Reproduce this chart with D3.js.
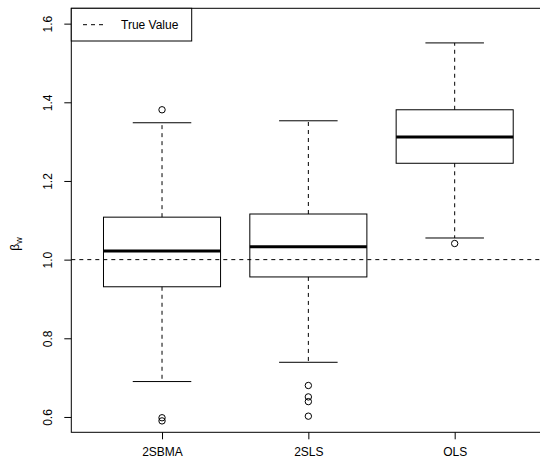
<!DOCTYPE html>
<html>
<head>
<meta charset="utf-8">
<script src="https://cdn.jsdelivr.net/npm/d3@7"></script>
<style>
  html, body { margin: 0; padding: 0; background: #fff; }
  svg { display: block; }
  text { font-family: "Liberation Sans", Arial, Helvetica, sans-serif; fill: #000; }
</style>
</head>
<body>
<svg id="chart" width="540" height="464"></svg>
<script>
// ---- data ----
const categories = ["2SBMA", "2SLS", "OLS"];
const whiskerLow  = [0.690, 0.739, 1.055];
const q1          = [0.931, 0.956, 1.245];
const medians     = [1.022, 1.033, 1.312];
const q3          = [1.108, 1.116, 1.381];
const whiskerHigh = [1.348, 1.353, 1.551];
const outliers    = [[1.381, 0.598, 0.590], [0.680, 0.651, 0.639, 0.602], [1.041]];
const yTicks      = [0.6, 0.8, 1.0, 1.2, 1.4, 1.6];
const trueValue   = 1.0;
const legendLabel = "True Value";

// ---- layout ----
const svg = d3.select("#chart");
const plot = { left: 71.3, top: 8.3, right: 545.4, bottom: 432.3 };

const x = d3.scaleLinear().domain([0.38, 3.62]).range([plot.left, plot.right]);
const y = d3.scaleLinear().domain([0.561, 1.639]).range([plot.bottom, plot.top]);
const unit = x(2) - x(1);
const boxW = 0.8 * unit;
const capW = 0.4 * unit;

const boxes = categories.map((c, i) => ({
  c, i: i + 1, lo: whiskerLow[i], q1: q1[i], med: medians[i], q3: q3[i], hi: whiskerHigh[i], out: outliers[i]
}));

const g = svg.append("g");

// true value line
g.append("line")
  .attr("x1", plot.left).attr("x2", plot.right)
  .attr("y1", y(trueValue)).attr("y2", y(trueValue))
  .attr("stroke", "#000").attr("stroke-width", 1).attr("stroke-dasharray", "4,4");

const bg = g.selectAll("g.box").data(boxes).join("g").attr("class", "box");

// whiskers (dashed)
bg.append("line")
  .attr("x1", d => x(d.i)).attr("x2", d => x(d.i))
  .attr("y1", d => y(d.q3)).attr("y2", d => y(d.hi))
  .attr("stroke", "#000").attr("stroke-dasharray", "4,4");
bg.append("line")
  .attr("x1", d => x(d.i)).attr("x2", d => x(d.i))
  .attr("y1", d => y(d.q1)).attr("y2", d => y(d.lo))
  .attr("stroke", "#000").attr("stroke-dasharray", "4,4");
// caps
bg.append("line")
  .attr("x1", d => x(d.i) - capW / 2).attr("x2", d => x(d.i) + capW / 2)
  .attr("y1", d => y(d.hi)).attr("y2", d => y(d.hi))
  .attr("stroke", "#000");
bg.append("line")
  .attr("x1", d => x(d.i) - capW / 2).attr("x2", d => x(d.i) + capW / 2)
  .attr("y1", d => y(d.lo)).attr("y2", d => y(d.lo))
  .attr("stroke", "#000");
// box
bg.append("rect")
  .attr("x", d => x(d.i) - boxW / 2).attr("width", boxW)
  .attr("y", d => y(d.q3)).attr("height", d => y(d.q1) - y(d.q3))
  .attr("fill", "none").attr("stroke", "#000").attr("stroke-width", 1);
// median
bg.append("line")
  .attr("x1", d => x(d.i) - boxW / 2).attr("x2", d => x(d.i) + boxW / 2)
  .attr("y1", d => y(d.med)).attr("y2", d => y(d.med))
  .attr("stroke", "#000").attr("stroke-width", 3);
// outliers
bg.selectAll("circle").data(d => d.out.map(v => ({ i: d.i, v }))).join("circle")
  .attr("cx", d => x(d.i)).attr("cy", d => y(d.v)).attr("r", 3.2)
  .attr("fill", "none").attr("stroke", "#000").attr("stroke-width", 1);

// frame
g.append("rect")
  .attr("x", plot.left).attr("y", plot.top)
  .attr("width", plot.right - plot.left).attr("height", plot.bottom - plot.top)
  .attr("fill", "none").attr("stroke", "#000").attr("stroke-width", 1);

// y axis
const yAxis = g.append("g").attr("transform", `translate(${plot.left},0)`)
  .call(d3.axisLeft(y).tickValues(yTicks).tickSize(7).tickFormat(d3.format(".1f")));
yAxis.select(".domain").remove();
yAxis.selectAll("text")
  .attr("x", null).attr("dy", null)
  .attr("font-size", 12)
  .attr("text-anchor", "middle")
  .attr("transform", "translate(-19.8,0) rotate(-90)");

// x axis
const xAxis = g.append("g").attr("transform", `translate(0,${plot.bottom})`)
  .call(d3.axisBottom(x).tickValues(boxes.map(d => d.i)).tickSize(7).tickFormat((d, k) => categories[k]));
xAxis.select(".domain").remove();
xAxis.selectAll("text").attr("font-size", 12).attr("y", 15).attr("dy", "0.71em");

// y label
const yl = svg.append("text")
  .attr("transform", "translate(19,244) rotate(-90)")
  .attr("text-anchor", "middle")
  .attr("font-size", 12);
yl.append("tspan").text("β");
yl.append("tspan").attr("font-size", 9).attr("dy", 3).text("w");

// legend
const lg = svg.append("g");
lg.append("rect")
  .attr("x", plot.left).attr("y", plot.top)
  .attr("width", 120.4).attr("height", 32.7)
  .attr("fill", "#fff").attr("stroke", "#000");
lg.append("line")
  .attr("x1", 83).attr("x2", 107).attr("y1", 24.7).attr("y2", 24.7)
  .attr("stroke", "#000").attr("stroke-dasharray", "4,4");
lg.append("text")
  .attr("x", 121).attr("y", 24.7).attr("dy", "0.35em")
  .attr("font-size", 12).text(legendLabel);
</script>
</body>
</html>
